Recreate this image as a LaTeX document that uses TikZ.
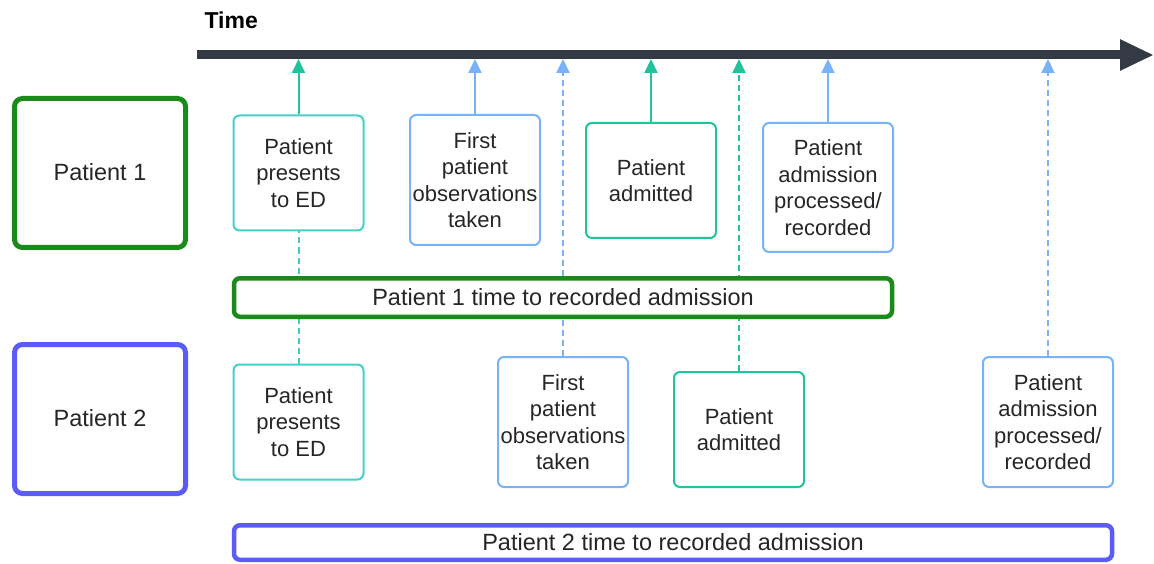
\documentclass[tikz,border=0pt]{standalone}
\usepackage{fontspec}
\setmainfont{Liberation Sans}
\usetikzlibrary{arrows.meta}
\definecolor{tlcol}{HTML}{343A44}
\definecolor{pgreen}{HTML}{1A8A1A}
\definecolor{pviolet}{HTML}{5B5BF5}
\definecolor{cyanb}{HTML}{45D0C8}
\definecolor{tealg}{HTML}{22C29C}
\definecolor{blueb}{HTML}{78B2F8}
\newcommand\boxfnt{\fontsize{22}{26.5}\selectfont}
\newcommand\bigfnt{\fontsize{23.5}{28}\selectfont}
\begin{document}
\begin{tikzpicture}[x=1pt,y=-1pt,
  evbox/.style={draw, line width=2pt, fill=white, rounded corners=6pt, inner sep=0pt,
    minimum width=130pt, align=center, font=\boxfnt, text=black!85},
  patbox/.style={draw, line width=5pt, fill=white, rounded corners=8pt, inner sep=0pt,
    minimum width=171pt, minimum height=149pt, font=\bigfnt, text=black!85},
  barbox/.style={draw, line width=4.5pt, fill=white, rounded corners=6pt, inner sep=0pt,
    font=\bigfnt, text=black!85},
  tick/.style={line width=2pt, -{Triangle[length=14pt,width=13pt]}},
  dtick/.style={tick, dash pattern=on 6pt off 4pt},
  dlink/.style={line width=2pt, dash pattern=on 6pt off 4pt}]
\useasboundingbox (0,0) rectangle (1154,564);
% timeline
\coordinate (tls) at (197,55);
\coordinate (tle) at (1154,55);
\coordinate (tlb) at (0,59);
\draw[tlcol, line width=9pt, -{Triangle[length=34pt,width=29pt]}] (tls) -- (tle);
\node[font=\fontsize{23}{26}\selectfont\bfseries, anchor=west, text=black] (time) at (201,20) {Time};
% patient boxes
\node[patbox, draw=pgreen] (pat1) at (100,173) {\raisebox{3pt}{Patient 1}};
\node[patbox, draw=pviolet] (pat2) at (100,419) {\raisebox{3pt}{Patient 2}};
% row 1
\node[evbox, draw=cyanb, minimum height=115pt] (p1pres) at (298.5,173) {Patient\\presents\\to ED};
\node[evbox, draw=blueb, minimum height=130pt] (p1obs) at (475,180) {First\\patient\\observations\\taken};
\node[evbox, draw=tealg, minimum height=115pt] (p1adm) at (651,180.5) {Patient\\admitted};
\node[evbox, draw=blueb, minimum height=129pt] (p1rec) at (828,187.5) {Patient\\admission\\processed/\\recorded};
% row 2
\node[evbox, draw=cyanb, minimum height=115pt] (p2pres) at (298.5,422) {Patient\\presents\\to ED};
\node[evbox, draw=blueb, minimum height=130pt] (p2obs) at (563,422) {First\\patient\\observations\\taken};
\node[evbox, draw=tealg, minimum height=115pt] (p2adm) at (739,429.5) {Patient\\admitted};
\node[evbox, draw=blueb, minimum height=130pt] (p2rec) at (1048,422) {Patient\\admission\\processed/\\recorded};
% row 1 ticks
\draw[tick, tealg] (p1pres.north) -- (p1pres.north |- tlb);
\draw[tick, blueb] (p1obs.north) -- (p1obs.north |- tlb);
\draw[tick, tealg] (p1adm.north) -- (p1adm.north |- tlb);
\draw[tick, blueb] (p1rec.north) -- (p1rec.north |- tlb);
% row 2 ticks
\draw[dlink, cyanb!80!tealg] (p2pres.north) -- (p1pres.south);
\draw[dtick, blueb] (p2obs.north) -- (p2obs.north |- tlb);
\draw[dtick, tealg] (p2adm.north) -- (p2adm.north |- tlb);
\draw[dtick, blueb] (p2rec.north) -- (p2rec.north |- tlb);
% bars
\node[barbox, draw=pgreen, minimum width=658pt, minimum height=38.5pt] (bar1) at (563,297.5) {Patient 1 time to recorded admission};
\node[barbox, draw=pviolet, minimum width=878pt, minimum height=34.5pt] (bar2) at (673,542.5) {Patient 2 time to recorded admission};
\end{tikzpicture}
\end{document}
